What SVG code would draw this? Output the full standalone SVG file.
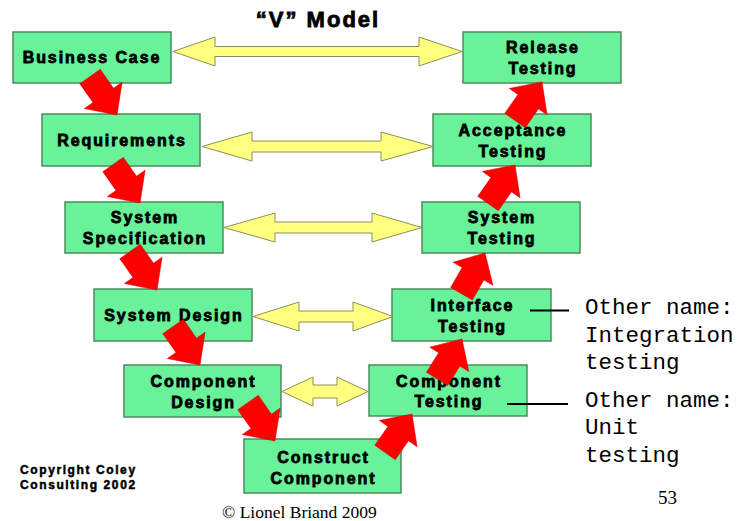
<svg xmlns="http://www.w3.org/2000/svg" xmlns:xlink="http://www.w3.org/1999/xlink" width="740" height="521" viewBox="0 0 740 521">
<style>
.box{fill:#68F29A;stroke:#4F8A5E;stroke-width:1.5}
.lbl{font-family:"Liberation Sans",Arial,sans-serif;font-weight:bold;font-size:16px;letter-spacing:1.9px;fill:#000;stroke:#000;stroke-width:0.8;text-anchor:middle}
.yel{fill:#FFFF80;stroke:#8E8E55;stroke-width:1}
.red{fill:#FF0000;stroke:#D00000;stroke-width:0.5}
.mono{font-family:"Liberation Mono","Courier New",monospace;font-size:22.5px;fill:#000}
.note{stroke:#000;stroke-width:2}
.copy{font-family:"Liberation Sans",Arial,sans-serif;font-weight:bold;font-size:12px;letter-spacing:1.6px;stroke:#000;stroke-width:0.5}
</style>
<defs>
<path id="blk" d="M-47,-12.5 L-24,-12.5 L-24,-23 L0,0 L-24,23 L-24,12.5 L-47,12.5 Z"/>
</defs>
<rect width="740" height="521" fill="#fff"/>
<text x="318" y="27" font-family="Liberation Sans,Arial,sans-serif" font-weight="bold" font-size="22" letter-spacing="2" stroke="#000" stroke-width="0.8" text-anchor="middle">“V” Model</text>

<g id="business-case"><rect class="box" x="13" y="32" width="158" height="51"/><text class="lbl" x="92" y="63">Business Case</text></g>
<g id="requirements"><rect class="box" x="42" y="114" width="158" height="52"/><text class="lbl" x="122" y="145.5">Requirements</text></g>
<g id="system-specification"><rect class="box" x="65" y="202" width="158" height="51"/><text class="lbl" x="145" y="223">System</text><text class="lbl" x="145" y="244">Specification</text></g>
<g id="system-design"><rect class="box" x="94" y="289" width="158" height="52"/><text class="lbl" x="174" y="321">System Design</text></g>
<g id="component-design"><rect class="box" x="124" y="365" width="157" height="52"/><text class="lbl" x="203.5" y="386.5">Component</text><text class="lbl" x="203.5" y="407.5">Design</text></g>
<g id="construct-component"><rect class="box" x="244" y="439" width="157" height="54"/><text class="lbl" x="323.5" y="462.5">Construct</text><text class="lbl" x="323.5" y="483.5">Component</text></g>
<g id="component-testing"><rect class="box" x="369" y="365" width="158" height="51"/><text class="lbl" x="449" y="386.5">Component</text><text class="lbl" x="449" y="407">Testing</text></g>
<g id="interface-testing"><rect class="box" x="392" y="289" width="159" height="52"/><text class="lbl" x="472.5" y="310.5">Interface</text><text class="lbl" x="472.5" y="332">Testing</text></g>
<g id="system-testing"><rect class="box" x="422" y="202" width="158" height="51"/><text class="lbl" x="502" y="223">System</text><text class="lbl" x="502" y="243.5">Testing</text></g>
<g id="acceptance-testing"><rect class="box" x="433" y="114" width="158" height="52"/><text class="lbl" x="513" y="135.5">Acceptance</text><text class="lbl" x="513" y="156.5">Testing</text></g>
<g id="release-testing"><rect class="box" x="463" y="32" width="158" height="51"/><text class="lbl" x="543" y="53">Release</text><text class="lbl" x="543" y="73.5">Testing</text></g>

<g id="connectors">
<path class="yel" d="M173,51.5 L215,37 L215,46.5 L419,46.5 L419,37 L462,51.5 L419,66 L419,56.5 L215,56.5 L215,66 Z"/>
<path class="yel" d="M202,146.5 L252,132 L252,141 L381,141 L381,132 L433,146.5 L381,161 L381,152 L252,152 L252,161 Z"/>
<path class="yel" d="M224,227.5 L275,213 L275,222 L372,222 L372,213 L422,227.5 L372,242 L372,233 L275,233 L275,242 Z"/>
<path class="yel" d="M253,316.5 L299,302 L299,311 L353,311 L353,302 L393,316.5 L353,331 L353,322 L299,322 L299,331 Z"/>
<path class="yel" d="M282,391.5 L313,377 L313,385 L337,385 L337,377 L368,391.5 L337,406 L337,398 L313,398 L313,406 Z"/>
<use href="#blk" xlink:href="#blk" class="red" transform="translate(117,115) rotate(55)"/>
<use href="#blk" xlink:href="#blk" class="red" transform="translate(140,203) rotate(55)"/>
<use href="#blk" xlink:href="#blk" class="red" transform="translate(157,290) rotate(55)"/>
<use href="#blk" xlink:href="#blk" class="red" transform="translate(200,365) rotate(55)"/>
<use href="#blk" xlink:href="#blk" class="red" transform="translate(275,441) rotate(55)"/>
<use href="#blk" xlink:href="#blk" class="red" transform="translate(412,414) rotate(-55)"/>
<use href="#blk" xlink:href="#blk" class="red" transform="translate(462,339) rotate(-58)"/>
<use href="#blk" xlink:href="#blk" class="red" transform="translate(485,253) rotate(-60)"/>
<use href="#blk" xlink:href="#blk" class="red" transform="translate(515,165) rotate(-55)"/>
<use href="#blk" xlink:href="#blk" class="red" transform="translate(542,82) rotate(-55)"/>
<line class="note" x1="530" y1="310.5" x2="569" y2="310.5"/>
<line class="note" x1="507" y1="404" x2="568" y2="404"/>
</g>

<text class="mono" x="585" y="314">Other name:</text>
<text class="mono" x="585" y="341.5">Integration</text>
<text class="mono" x="585" y="369">testing</text>
<text class="mono" x="585" y="406.5">Other name:</text>
<text class="mono" x="585" y="434">Unit</text>
<text class="mono" x="585" y="461.5">testing</text>

<text class="copy" x="20" y="474">Copyright Coley</text>
<text class="copy" x="20" y="489">Consulting 2002</text>
<text x="222" y="518" font-family="Liberation Serif,Times New Roman,serif" font-size="17.5">© Lionel Briand 2009</text>
<text x="658" y="504" font-family="Liberation Serif,Times New Roman,serif" font-size="19">53</text>
</svg>
